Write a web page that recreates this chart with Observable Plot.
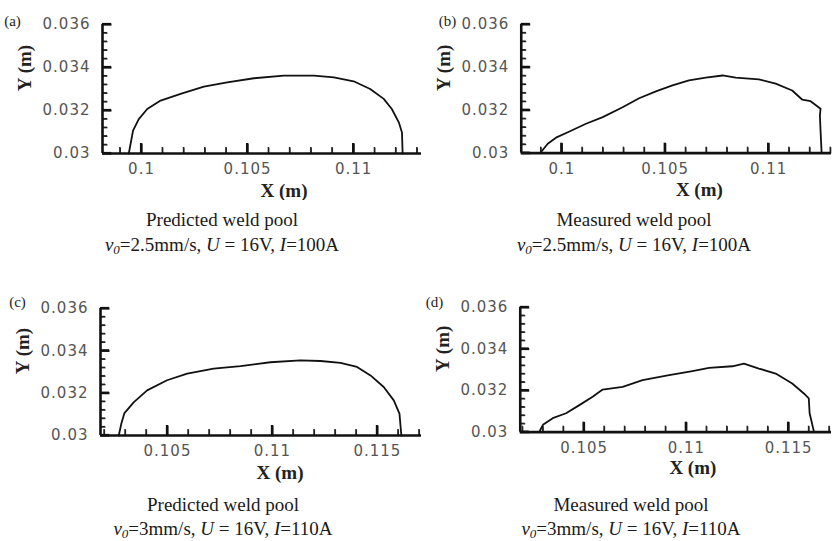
<!DOCTYPE html>
<html><head><meta charset="utf-8">
<script src="https://cdn.jsdelivr.net/npm/d3@7"></script>
<script src="https://cdn.jsdelivr.net/npm/@observablehq/plot@0.6"></script>
<style>
html,body{margin:0;padding:0;background:#fff}
#root{position:relative;width:832px;height:541px;overflow:hidden;background:#fff}
.panel{position:absolute}
.panel g[aria-label="x-axis tick label"] text,.panel g[aria-label="y-axis tick label"] text{letter-spacing:1px}
.cap{position:absolute;font-family:"Liberation Serif","Times New Roman",serif;font-size:19px;color:#1a1a1a;white-space:nowrap;transform:translateX(-50%);line-height:22px}
.cap sub{font-size:13px;vertical-align:-3px;line-height:0}
</style></head>
<body><div id="root"></div>
<script>
// ---- data ----
const predA_x = [0.0994,0.0996,0.09987,0.10027,0.1009,0.10184,0.10294,0.10404,0.1053,0.10671,0.10813,0.10907,0.11,0.11078,0.11142,0.1118,0.11213,0.11228,0.11231];
const predA_y = [0.03,0.03106,0.0316,0.03207,0.03246,0.03277,0.03311,0.03331,0.0335,0.03362,0.03362,0.03354,0.03336,0.033,0.03254,0.03207,0.03145,0.03098,0.03];

const measB_x = [0.099,0.09932,0.09972,0.10037,0.10117,0.10198,0.10294,0.10374,0.10455,0.10535,0.10615,0.10696,0.10777,0.10841,0.10953,0.11034,0.11114,0.11163,0.11203,0.11251,0.11248,0.11251,0.11256];
const measB_y = [0.03005,0.03044,0.03072,0.03101,0.03137,0.03168,0.03214,0.03256,0.03288,0.03316,0.03339,0.03352,0.03362,0.03352,0.03344,0.03324,0.03292,0.03249,0.03242,0.03207,0.03176,0.03106,0.03005];

const predC_x = [0.10268,0.1028,0.10295,0.1034,0.10403,0.10498,0.10594,0.1072,0.10848,0.1099,0.11133,0.11229,0.11324,0.11403,0.11467,0.1153,0.11578,0.11605,0.11614];
const predC_y = [0.03,0.03055,0.03106,0.03158,0.03213,0.03261,0.03292,0.03316,0.03328,0.03346,0.03355,0.03352,0.03343,0.03324,0.03284,0.03229,0.03166,0.03103,0.03];

const measD_x = [0.10282,0.10299,0.10347,0.10412,0.10477,0.10542,0.10591,0.10689,0.10786,0.10916,0.1103,0.11111,0.11225,0.11282,0.11355,0.11437,0.11518,0.11575,0.11599,0.11603,0.11624];
const measD_y = [0.03003,0.03035,0.03067,0.03091,0.0313,0.0317,0.03205,0.03218,0.0325,0.03274,0.03294,0.03309,0.03317,0.0333,0.03306,0.03282,0.03234,0.03186,0.03162,0.03091,0.03003];

const yMajorTicks = [0.03,0.032,0.034,0.036];
const yMinorTicks = [0.0304,0.0308,0.0312,0.0316,0.0324,0.0328,0.0332,0.0336,0.0344,0.0348,0.0352,0.0356];
const xMajorTicksTop = [0.1,0.105,0.11];
const xMinorTicksTop = [0.099,0.101,0.102,0.103,0.104,0.106,0.107,0.108,0.109,0.111,0.112,0.113];
const xMajorTicksBottom = [0.105,0.11,0.115];
const xMinorTicksBottom = [0.102,0.103,0.104,0.106,0.107,0.108,0.109,0.111,0.112,0.113,0.114,0.116,0.117];

const panelLetters = ["(a)","(b)","(c)","(d)"];
const captionTitles = ["Predicted weld pool","Measured weld pool","Predicted weld pool","Measured weld pool"];
const captionParams = [
  {v:"2.5mm/s", U:"16V", I:"100A"},
  {v:"2.5mm/s", U:"16V", I:"100A"},
  {v:"3mm/s", U:"16V", I:"110A"},
  {v:"3mm/s", U:"16V", I:"110A"}
];
const xLabel = "X (m)", yLabel = "Y (m)";

// ---- layout ----
const layouts = [
  {left:0, top:0, width:422, height:200, mL:102, mT:24, mB:47, xd:[0.09816,0.1132], maj:xMajorTicksTop, min:xMinorTicksTop, xs:predA_x, ys:predA_y,
   lab:{dx:-90,dy:-3}, xl:{dx:22,dy:37}, capX:222, capY:[209,234]},
  {left:416, top:0, width:417, height:200, mL:105, mT:24, mB:47, xd:[0.09804,0.11304], maj:xMajorTicksTop, min:xMinorTicksTop, xs:measB_x, ys:measB_y,
   lab:{dx:-74,dy:-3}, xl:{dx:23,dy:37}, capX:634, capY:[209,234]},
  {left:0, top:284, width:422, height:200, mL:100, mT:24, mB:49, xd:[0.10181,0.1171], maj:xMajorTicksBottom, min:xMinorTicksBottom, xs:predC_x, ys:predC_y,
   lab:{dx:-83,dy:-6}, xl:{dx:19,dy:37}, capX:223, capY:[494,518]},
  {left:416, top:283, width:417, height:200, mL:104, mT:24, mB:51, xd:[0.10188,0.1171], maj:xMajorTicksBottom, min:xMinorTicksBottom, xs:measD_x, ys:measD_y,
   lab:{dx:-86,dy:-5}, xl:{dx:17,dy:36}, capX:631, capY:[494,518]}
];

const root = document.getElementById("root");
const sans = "'DejaVu Sans', Verdana, sans-serif";
const serif = "'Liberation Serif','Times New Roman',serif";
const fmt = d => String(d);
const Y0 = 0.03, Y1 = 0.036;

layouts.forEach((L, i) => {
  const data = L.xs.map((x, k) => ({x, y: L.ys[k]}));
  const x0 = L.xd[0];
  // pixel tick lengths converted to data units of this panel
  const pxX = (L.width - 1 - L.mL) / (L.xd[1] - L.xd[0]);
  const pxY = (L.height - L.mT - L.mB) / (Y1 - Y0);
  const ty = px => Y0 + px / pxY;
  const tx = px => x0 + px / pxX;
  const hx = px => px / pxX / 2;
  const hy = px => px / pxY / 2;
  const chart = Plot.plot({
    width: L.width, height: L.height,
    marginLeft: L.mL, marginTop: L.mT, marginBottom: L.mB, marginRight: 1,
    style: {background: "transparent", fontFamily: sans, fontSize: "15px", color: "#444"},
    x: {domain: L.xd, label: null},
    y: {domain: [Y0, Y1], label: null},
    marks: [
      // inward ticks as thin filled rectangles standing on the axes
      Plot.rect(L.min, {x1: d => d - hx(1.3), x2: d => d + hx(1.3), y1: () => Y0, y2: () => ty(6), fill: "#222"}),
      Plot.rect(L.maj, {x1: d => d - hx(2.2), x2: d => d + hx(2.2), y1: () => Y0, y2: () => ty(10), fill: "#111"}),
      Plot.rect(yMinorTicks, {y1: d => d - hy(1.3), y2: d => d + hy(1.3), x1: () => x0, x2: () => tx(5), fill: "#222"}),
      Plot.rect(yMajorTicks, {y1: d => d - hy(2.2), y2: d => d + hy(2.2), x1: () => x0, x2: () => tx(9), fill: "#111"}),
      // the same ticks as strokes
      Plot.link(L.min, {x1: d => d, x2: d => d, y1: () => Y0, y2: () => ty(6), stroke: "#222", strokeWidth: 1.3}),
      Plot.link(L.maj, {x1: d => d, x2: d => d, y1: () => Y0, y2: () => ty(10), stroke: "#111", strokeWidth: 2.2}),
      Plot.link(yMinorTicks, {y1: d => d, y2: d => d, x1: () => x0, x2: () => tx(5), stroke: "#222", strokeWidth: 1.3}),
      Plot.link(yMajorTicks, {y1: d => d, y2: d => d, x1: () => x0, x2: () => tx(9), stroke: "#111", strokeWidth: 2.2}),
      Plot.axisX(L.maj, {tickSize: 0, tickPadding: 10, tickFormat: fmt, label: null, fill: "#555", fontSize: 15}),
      Plot.axisY(yMajorTicks, {tickSize: 0, tickPadding: 12, tickFormat: fmt, label: null, fill: "#555", fontSize: 15}),
      Plot.ruleY([Y0], {stroke: "#111", strokeWidth: 2.6}),
      Plot.ruleX([x0], {stroke: "#111", strokeWidth: 2.6}),
      Plot.line(data, {x: "x", y: "y", stroke: "#111", strokeWidth: 1.8}),
      Plot.text([xLabel], {frameAnchor: "bottom", textAnchor: "middle", lineAnchor: "middle", dx: L.xl.dx, dy: L.xl.dy, fontFamily: serif, fontWeight: "bold", fontSize: 19, fill: "#222"}),
      Plot.text([yLabel], {frameAnchor: "left", textAnchor: "middle", lineAnchor: "middle", rotate: -90, dx: -78, dy: -21, fontFamily: serif, fontWeight: "bold", fontSize: 19, fill: "#222"}),
      Plot.text([panelLetters[i]], {frameAnchor: "top-left", textAnchor: "middle", lineAnchor: "middle", dx: L.lab.dx, dy: L.lab.dy, fontFamily: serif, fontSize: 15, fill: "#222"})
    ]
  });
  const div = document.createElement("div");
  div.className = "panel";
  div.style.left = L.left + "px";
  div.style.top = L.top + "px";
  div.appendChild(chart);
  root.appendChild(div);

  const c1 = document.createElement("div");
  c1.className = "cap";
  c1.style.left = L.capX + "px";
  c1.style.top = L.capY[0] + "px";
  c1.textContent = captionTitles[i];
  root.appendChild(c1);
  const p = captionParams[i];
  const c2 = document.createElement("div");
  c2.className = "cap";
  c2.style.left = L.capX + "px";
  c2.style.top = L.capY[1] + "px";
  c2.innerHTML = `<i>v<sub>0</sub></i>=${p.v}, <i>U</i> = ${p.U}, <i>I</i>=${p.I}`;
  root.appendChild(c2);
});
</script>
</body></html>
